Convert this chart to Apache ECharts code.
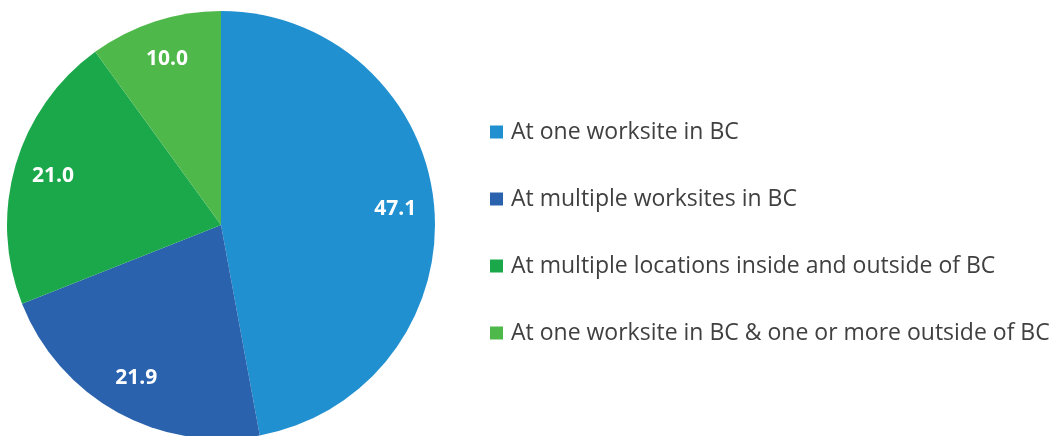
<!DOCTYPE html>
<html>
<head>
<meta charset="utf-8">
<script src="https://cdn.jsdelivr.net/npm/echarts@6/dist/echarts.min.js"></script>
<style>
  html, body { margin: 0; padding: 0; background: #fff; }
  #chart { width: 1061px; height: 436px; }
</style>
</head>
<body>
<div id="chart"></div>
<script>
const categories = [
  'At one worksite in BC',
  'At multiple worksites in BC',
  'At multiple locations inside and outside of BC',
  'At one worksite in BC & one or more outside of BC'
]
const values = [47.1, 21.9, 21.0, 10.0]
const colors = ['#2090d0', '#2a62ae', '#1ba84a', '#4eb84a']

const chart = echarts.init(document.getElementById('chart'))

const sliceData = categories.map((name, i) => ({
  name,
  value: values[i],
  itemStyle: { color: colors[i] },
}))

chart.setOption({
  animation: false,
  legend: {
    orient: 'vertical',
    left: 485,
    top: 115,
    itemWidth: 13,
    itemHeight: 13,
    itemGap: 43,
    icon: 'rect',
    textStyle: {
      color: '#404040', fontSize: 23, lineHeight: 24,
      fontFamily: 'Open Sans', padding: [0, 0, 0, 3],
    },
    data: categories,
  },
  series: [
    {
      type: 'pie',
      center: [221, 225],
      radius: 214,
      startAngle: 90,
      clockwise: true,
      label: { show: false },
      labelLine: { show: false },
      itemStyle: { borderWidth: 0 },
      data: sliceData,
    },
    {
      // label layer only: puts the numbers near the outer edge
      type: 'pie',
      center: [221, 225],
      radius: [140, 204],
      startAngle: 90,
      silent: true,
      legendHoverLink: false,
      itemStyle: { color: 'transparent' },
      label: {
        show: true,
        position: 'inside',
        color: '#fff',
        fontSize: 21,
        fontWeight: 'bold',
        fontFamily: 'Open Sans',
        formatter: p => p.value.toFixed(1),
      },
      labelLine: { show: false },
      data: categories.map((name, i) => ({ name: name + ' ', value: values[i] })),
    },
  ],
})
</script>
</body>
</html>
